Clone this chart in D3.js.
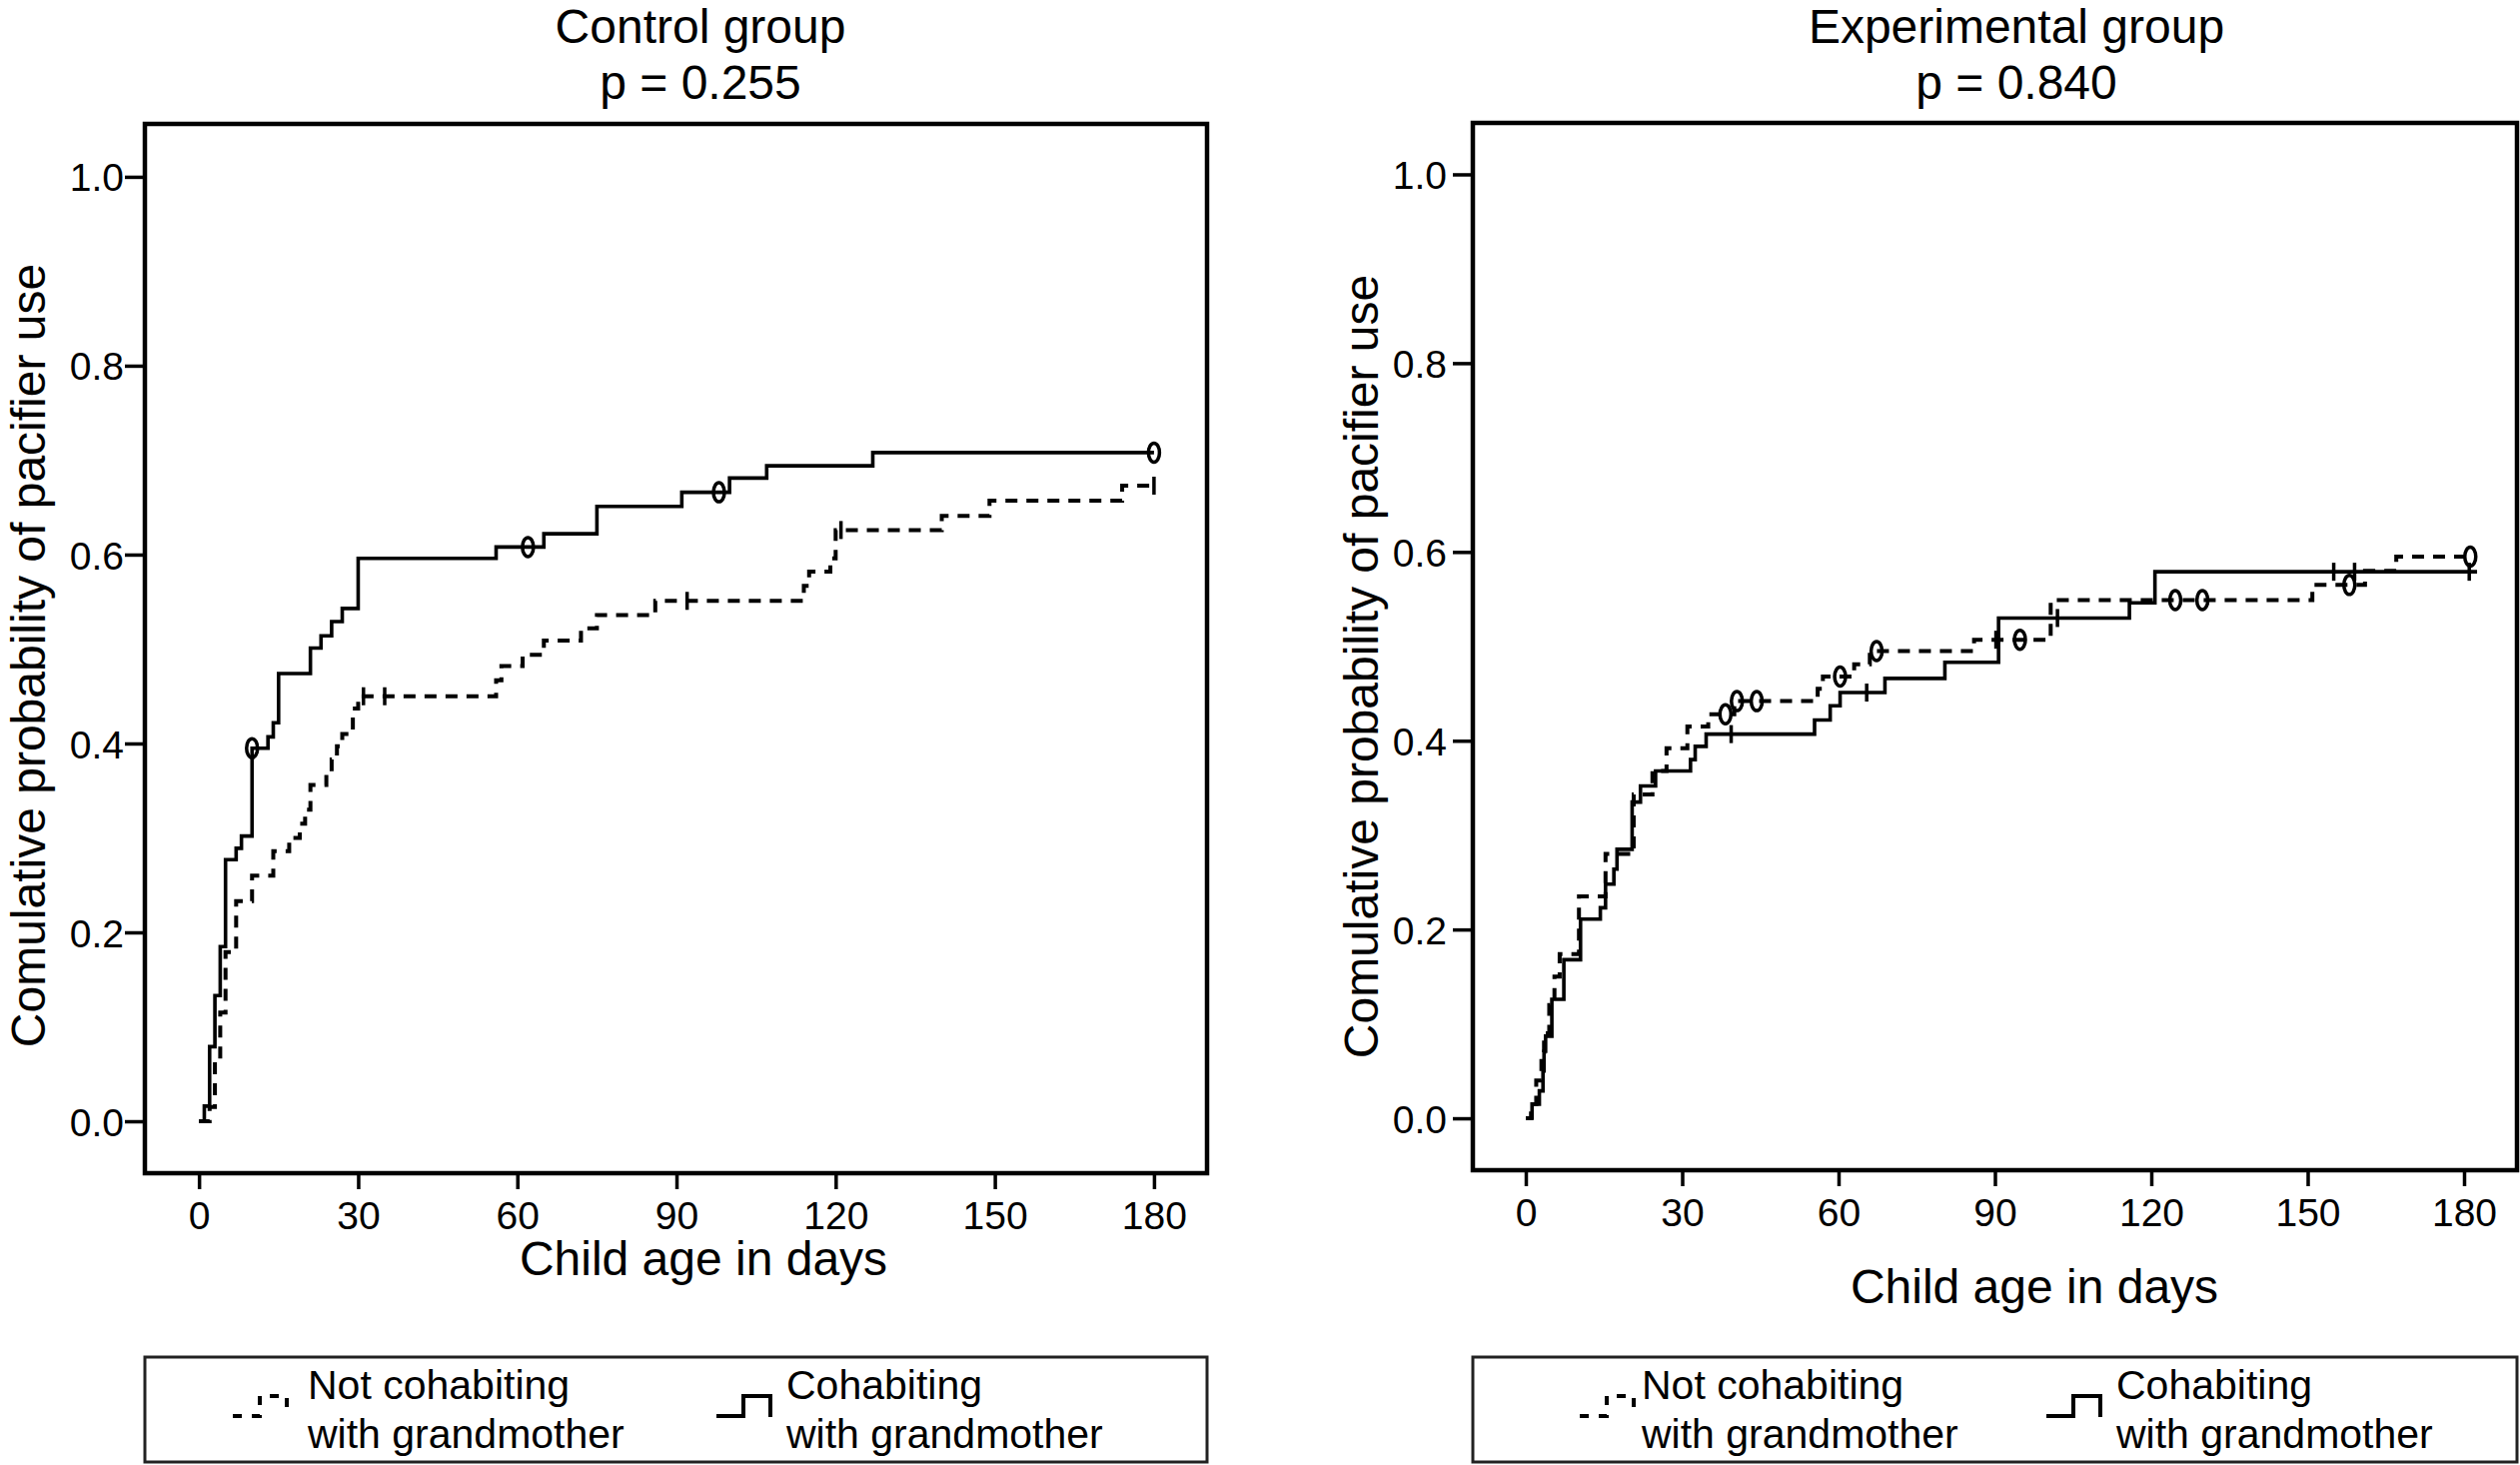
<!DOCTYPE html>
<html>
<head>
<meta charset="utf-8">
<script src="https://cdn.jsdelivr.net/npm/d3@7"></script>
<style>
  html, body { margin: 0; padding: 0; background: #fff; }
  svg { display: block; }
  text { font-family: "Liberation Sans", Arial, Helvetica, sans-serif; fill: #000; }
</style>
</head>
<body>
<svg id="chart" width="2522" height="1466"></svg>
<script>
// ---------------- DATA ----------------
const xTicks = [0, 30, 60, 90, 120, 150, 180];
const yTicks = [0.0, 0.2, 0.4, 0.6, 0.8, 1.0];
const panelTitles = ["Control group", "Experimental group"];
const pValues = ["p = 0.255", "p = 0.840"];
const xTitle = "Child age in days";
const yTitle = "Comulative probability of pacifier use";
const legendLabels = [["Not cohabiting", "with grandmother"], ["Cohabiting", "with grandmother"]];

// Control group – not cohabiting with grandmother (dashed) [day, cumulative probability]
const ctrlNot = [[0,0],[2,0.015],[3,0.064],[4,0.115],[5,0.179],[7,0.233],[10,0.260],[14,0.286],[17,0.300],
  [19,0.315],[20,0.330],[21,0.356],[24,0.369],[25,0.383],[26,0.397],[27,0.410],[29,0.437],[30,0.450],
  [56,0.467],[57,0.482],[61,0.494],[65,0.509],[72,0.522],[75,0.536],[86,0.551],[114,0.567],[115,0.582],
  [119,0.596],[120,0.626],[140,0.641],[149,0.657],[174,0.673]];
const ctrlNotEnd = 180.5;
const ctrlNotTicks = [[31,0.450],[35,0.450],[92,0.551],[121,0.626],[180,0.673]];
const ctrlNotRings = [];

// Control group – cohabiting with grandmother (solid)
const ctrlCoh = [[0,0],[1,0.016],[2,0.079],[3,0.133],[4,0.185],[5,0.277],[7,0.289],[8,0.302],[10,0.395],
  [13,0.407],[14,0.422],[15,0.474],[21,0.501],[23,0.514],[25,0.529],[27,0.543],[30,0.596],[56,0.608],
  [65,0.622],[75,0.651],[91,0.666],[100,0.681],[107,0.694],[127,0.708]];
const ctrlCohEnd = 180;
const ctrlCohTicks = [];
const ctrlCohRings = [[10,0.395],[62,0.608],[98,0.666],[180,0.708]];

// Experimental group – not cohabiting with grandmother (dashed)
const expNot = [[0,0],[1,0.015],[2,0.04],[3,0.07],[3.5,0.09],[4.5,0.12],[5.5,0.15],[6.5,0.174],[10.2,0.235],
  [15.3,0.280],[20.7,0.343],[24.3,0.368],[27,0.392],[31,0.415],[35,0.428],[40,0.442],[56,0.455],[57,0.468],
  [63,0.481],[66,0.495],[86,0.507],[100.7,0.549],[150.9,0.565],[161,0.580],[167,0.595]];
const expNotEnd = 181.5;
const expNotTicks = [[90.2,0.507]];
const expNotRings = [[38.3,0.428],[40.5,0.442],[44.3,0.442],[60.3,0.468],[67.3,0.495],[94.8,0.507],
  [124.6,0.549],[129.8,0.549],[158,0.565],[181.2,0.595]];

// Experimental group – cohabiting with grandmother (solid)
const expCoh = [[0.3,0],[1.2,0.015],[2.6,0.029],[3.3,0.05],[3.5,0.071],[3.8,0.087],[5,0.126],[7.3,0.168],
  [10.5,0.211],[14.3,0.223],[15.3,0.248],[16.9,0.264],[17.5,0.285],[20.4,0.335],[22,0.352],[24.9,0.368],
  [31.6,0.380],[32.5,0.394],[34.6,0.407],[55.4,0.422],[58.4,0.437],[60.3,0.451],[68.9,0.466],[80.4,0.483],
  [90.7,0.530],[115.8,0.546],[120.7,0.579]];
const expCohEnd = 182.5;
const expCohTicks = [[39.4,0.407],[65.4,0.451],[102,0.530],[155,0.579],[159,0.579],[181,0.579]];
const expCohRings = [];

// ---------------- LAYOUT ----------------
const panels = [
  { frame: {x0:145, x1:1208, y0:124, y1:1174}, xDom:[-10.2,190], yDom:[-0.055,1.056],
    title:[701,43,99], yTitle:[45,656], xTitleP:[704,1276], yLabX:124, legend:{x0:145,x1:1208,y0:1358,y1:1463, s1:233, t1:308, s2:717, t2:787},
    series:[
      {data:ctrlNot, end:ctrlNotEnd, dashed:true, ticks:ctrlNotTicks, rings:ctrlNotRings},
      {data:ctrlCoh, end:ctrlCohEnd, dashed:false, ticks:ctrlCohTicks, rings:ctrlCohRings}] },
  { frame: {x0:1474, x1:2519, y0:123, y1:1171}, xDom:[-10.16,190.16], yDom:[-0.055,1.0545],
    title:[2018,43,99], yTitle:[1379,667], xTitleP:[2036,1304], yLabX:1448, legend:{x0:1474,x1:2519,y0:1358,y1:1463, s1:1581, t1:1643, s2:2048, t2:2118},
    series:[
      {data:expNot, end:expNotEnd, dashed:true, ticks:expNotTicks, rings:expNotRings},
      {data:expCoh, end:expCohEnd, dashed:false, ticks:expCohTicks, rings:expCohRings}] }
];

const svg = d3.select("#chart");
svg.append("rect").attr("width",2522).attr("height",1466).attr("fill","#fff");

panels.forEach((p, i) => {
  const f = p.frame;
  const x = d3.scaleLinear().domain(p.xDom).range([f.x0, f.x1]);
  const y = d3.scaleLinear().domain(p.yDom).range([f.y1, f.y0]);
  const g = svg.append("g");

  // titles
  g.append("text").attr("x", p.title[0]).attr("y", p.title[1]).attr("text-anchor","middle")
    .attr("font-size", 48).text(panelTitles[i]);
  g.append("text").attr("x", p.title[0]).attr("y", p.title[2]).attr("text-anchor","middle")
    .attr("font-size", 48).text(pValues[i]);

  // y axis (ticks left of frame)
  const yAxis = d3.axisLeft(y).tickValues(yTicks).tickFormat(d3.format(".1f")).tickSize(20).tickPadding(2);
  const ya = g.append("g").attr("transform", `translate(${f.x0},0)`).call(yAxis);
  ya.select(".domain").remove();
  ya.selectAll(".tick line").attr("stroke","#000").attr("stroke-width",3.5);
  ya.selectAll(".tick text").attr("font-size", 39).attr("x", p.yLabX - f.x0).attr("dy","0.36em")
    .style("font-family", '"Liberation Sans", Arial, sans-serif');

  // x axis (ticks below frame)
  const xAxis = d3.axisBottom(x).tickValues(xTicks).tickFormat(d3.format("d")).tickSize(16).tickPadding(12);
  const xa = g.append("g").attr("transform", `translate(0,${f.y1})`).call(xAxis);
  xa.select(".domain").remove();
  xa.selectAll(".tick line").attr("stroke","#000").attr("stroke-width",3.5);
  xa.selectAll(".tick text").attr("font-size", 39).attr("y", 56).attr("dy", 0)
    .style("font-family", '"Liberation Sans", Arial, sans-serif');

  // frame
  g.append("rect").attr("x", f.x0).attr("y", f.y0).attr("width", f.x1 - f.x0).attr("height", f.y1 - f.y0)
    .attr("fill","none").attr("stroke","#000").attr("stroke-width",4.5);

  // axis titles
  g.append("text").attr("transform", `translate(${p.yTitle[0]},${p.yTitle[1]}) rotate(-90)`)
    .attr("text-anchor","middle").attr("font-size", 48).text(yTitle);
  g.append("text").attr("x", p.xTitleP[0]).attr("y", p.xTitleP[1]).attr("text-anchor","middle")
    .attr("font-size", 48).text(xTitle);

  // curves
  const line = d3.line().x(d => x(d[0])).y(d => y(d[1])).curve(d3.curveStepAfter);
  p.series.forEach(s => {
    const pts = s.data.concat([[s.end, s.data[s.data.length-1][1]]]);
    g.append("path").attr("d", line(pts)).attr("fill","none").attr("stroke","#000")
      .attr("stroke-width", s.dashed ? 4 : 3.6)
      .attr("stroke-dasharray", s.dashed ? "12,9" : null);
    g.selectAll(null).data(s.ticks).enter().append("line")
      .attr("x1", d => x(d[0])).attr("x2", d => x(d[0]))
      .attr("y1", d => y(d[1]) - 9).attr("y2", d => y(d[1]) + 9)
      .attr("stroke","#000").attr("stroke-width",3.5);
    g.selectAll(null).data(s.rings).enter().append("ellipse")
      .attr("cx", d => x(d[0])).attr("cy", d => y(d[1])).attr("rx", 5.5).attr("ry", 9.5)
      .attr("fill","none").attr("stroke","#000").attr("stroke-width",3.5);
  });

  // legend
  const L = p.legend;
  g.append("rect").attr("x", L.x0).attr("y", L.y0).attr("width", L.x1 - L.x0).attr("height", L.y1 - L.y0)
    .attr("fill","none").attr("stroke","#222").attr("stroke-width",3);
  const sym = (sx) => `M${sx},1417 H${sx+27} V1397 H${sx+54} V1418`;
  g.append("path").attr("d", sym(L.s1)).attr("fill","none").attr("stroke","#000").attr("stroke-width",4)
    .attr("stroke-dasharray","9,10");
  g.append("path").attr("d", sym(L.s2)).attr("fill","none").attr("stroke","#000").attr("stroke-width",4);
  [[L.t1, legendLabels[0]], [L.t2, legendLabels[1]]].forEach(([tx, lab]) => {
    g.append("text").attr("x", tx).attr("y", 1400).attr("font-size", 41).text(lab[0]);
    g.append("text").attr("x", tx).attr("y", 1449).attr("font-size", 41).text(lab[1]);
  });
});
</script>
</body>
</html>
